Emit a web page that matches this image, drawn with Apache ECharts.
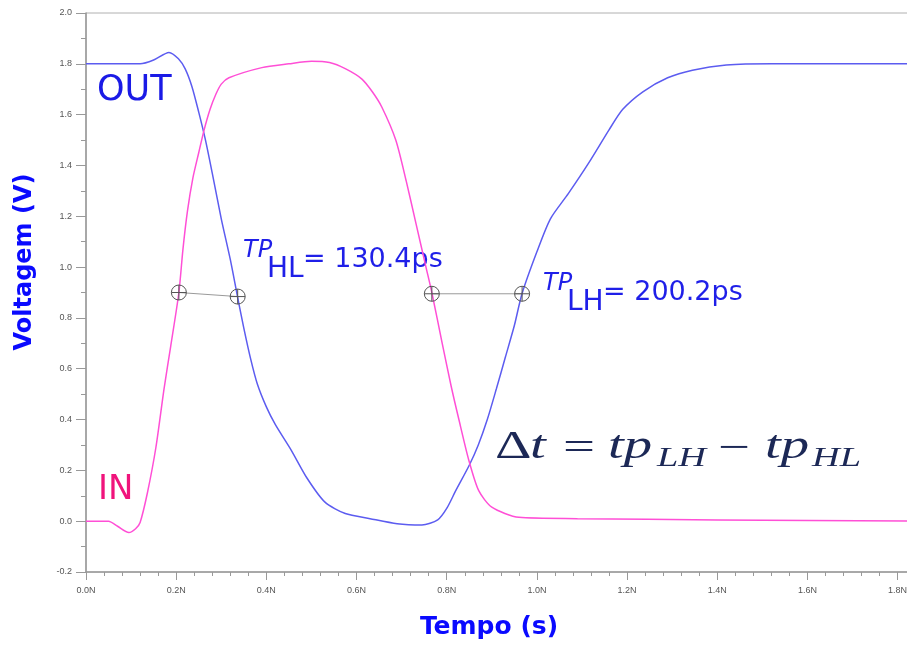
<!DOCTYPE html>
<html>
<head>
<meta charset="utf-8">
<script src="https://cdn.jsdelivr.net/npm/echarts@6/dist/echarts.min.js"></script>
<style>
  html, body { margin: 0; background: #fff; }
  #chart { width: 907px; height: 646px; }
</style>
</head>
<body>
<div id="chart"></div>
<script>
// time in ns, voltage in V
const outTime = [0, 0.10, 0.12, 0.15, 0.184, 0.205, 0.22, 0.235, 0.25, 0.265, 0.28, 0.30, 0.32, 0.336, 0.35,
    0.365, 0.38, 0.40, 0.42, 0.455, 0.49, 0.53, 0.575, 0.63, 0.69, 0.745, 0.78, 0.80, 0.82, 0.85,
    0.87, 0.89, 0.91, 0.93, 0.95, 0.967, 1.00, 1.03, 1.07, 1.115, 1.16, 1.19, 1.235, 1.29, 1.345,
    1.42, 1.52, 1.843];
const outVolt = [1.8, 1.8, 1.8, 1.815, 1.845, 1.82, 1.78, 1.71, 1.61, 1.5, 1.37, 1.19, 1.03, 0.884, 0.76,
    0.64, 0.54, 0.45, 0.38, 0.28, 0.17, 0.075, 0.03, 0.01, -0.01, -0.015, 0.005, 0.05, 0.12, 0.22,
    0.30, 0.40, 0.52, 0.645, 0.77, 0.895, 1.06, 1.19, 1.29, 1.41, 1.54, 1.62, 1.69, 1.745, 1.775,
    1.795, 1.8, 1.8];

const inTime = [0, 0.05, 0.07, 0.095, 0.11, 0.12, 0.136, 0.155, 0.173, 0.188, 0.206, 0.215, 0.225, 0.237, 0.25,
    0.262, 0.275, 0.288, 0.30, 0.317, 0.39, 0.45, 0.50, 0.54, 0.576, 0.612, 0.635, 0.656, 0.687, 0.71,
    0.732, 0.754, 0.767, 0.79, 0.81, 0.827, 0.849, 0.871, 0.90, 0.96, 1.09, 1.4, 1.843];
const inVolt = [0, 0, -0.02, -0.045, -0.03, -0.005, 0.11, 0.29, 0.52, 0.69, 0.9, 1.07, 1.22, 1.35, 1.45,
    1.54, 1.62, 1.68, 1.72, 1.745, 1.785, 1.80, 1.81, 1.805, 1.78, 1.74, 1.69, 1.63, 1.5, 1.34,
    1.17, 1.0, 0.9, 0.70, 0.53, 0.4, 0.24, 0.12, 0.055, 0.015, 0.01, 0.005, 0.0];

// 50% crossing markers
const hlMarkers = [[0.206, 0.9], [0.3364, 0.884]];
const lhMarkers = [[0.767, 0.895], [0.9672, 0.895]];

const xMin = 0, xMax = 1.843, xStep = 0.2;
const yMin = -0.2, yMax = 2.0, yStep = 0.2;

const pair = (xs, ys) => xs.map((x, i) => [x, ys[i]]);

const crossSymbol = 'path://M10,0A10,10,0,1,1,10,20A10,10,0,1,1,10,0ZM0,10L20,10M10,0L10,20';

const chart = echarts.init(document.getElementById('chart'), null, { renderer: 'canvas' });

const markerSeries = (data) => ({
    type: 'line',
    data,
    symbol: crossSymbol,
    symbolSize: 15,
    lineStyle: { color: '#9a9a9a', width: 1 },
    itemStyle: { color: 'rgba(0,0,0,0)', borderColor: '#555', borderWidth: 1 },
    z: 5,
    silent: true,
});

const sans = 'DejaVu Sans';
const serif = 'Liberation Serif';
const blue = '#1f1fe8';
const navy = '#1c2856';

const txt = (text, x, y, font, fill, extra = {}) => ({
    type: 'text',
    x, y,
    ...extra,
    style: { text, font, fill, textVerticalAlign: 'middle', ...(extra.style || {}) },
});

const option = {
    backgroundColor: '#fff',
    animation: false,
    // plot runs past the right edge of the picture, as in the original screenshot
    grid: {
        left: 86, width: 831, top: 13, bottom: 74,
        outerBoundsMode: 'none',
        show: true, borderColor: '#b0b0b0', borderWidth: 1,
    },
    xAxis: {
        type: 'value',
        min: xMin,
        max: xMax,
        interval: xStep,
        axisLine: { onZero: false, lineStyle: { color: '#999', width: 1.5 } },
        axisTick: { length: 8, lineStyle: { color: '#999' } },
        minorTick: { show: true, splitNumber: 5, length: 4, lineStyle: { color: '#999' } },
        splitLine: { show: false },
        axisLabel: {
            margin: 14,
            fontSize: 9,
            fontFamily: 'Liberation Sans',
            color: '#555',
            showMaxLabel: false,
            formatter: (v) => (Math.abs(v / xStep - Math.round(v / xStep)) < 1e-6 ? v.toFixed(1) + 'N' : ''),
        },
    },
    yAxis: {
        type: 'value',
        min: yMin,
        max: yMax,
        interval: yStep,
        axisLine: { show: true, lineStyle: { color: '#999', width: 1.5 } },
        axisTick: { show: true, length: 10, lineStyle: { color: '#999' } },
        minorTick: { show: true, splitNumber: 2, length: 5, lineStyle: { color: '#999' } },
        splitLine: { show: false },
        axisLabel: {
            margin: 14,
            fontSize: 9,
            fontFamily: 'Liberation Sans',
            color: '#555',
            formatter: (v) => v.toFixed(1),
        },
    },
    series: [
        {
            name: 'OUT',
            type: 'line',
            data: pair(outTime, outVolt),
            showSymbol: false,
            smooth: 0.25,
            lineStyle: { color: '#5c5cf0', width: 1.5 },
            z: 3,
        },
        {
            name: 'IN',
            type: 'line',
            data: pair(inTime, inVolt),
            showSymbol: false,
            smooth: 0.25,
            lineStyle: { color: '#ff4fd6', width: 1.5 },
            z: 3,
        },
        markerSeries(hlMarkers),
        markerSeries(lhMarkers),
    ],
    graphic: [
        // axis titles
        txt('Voltagem (V)', 25, 262, `bold 24px "${sans}"`, '#0a0aff', { rotation: Math.PI / 2, style: { textAlign: 'center' } }),
        txt('Tempo (s)', 489, 627, `bold 25px "${sans}"`, '#0a0aff', { style: { textAlign: 'center' } }),
        // curve names
        txt('OUT', 97, 91, `35px "${sans}"`, '#1a1ae6'),
        txt('IN', 98, 490, `34px "${sans}"`, '#f0147c'),
        // propagation delays
        txt('TP', 243, 251, `italic 24px "${sans}"`, blue),
        txt('HL', 267, 270, `28px "${sans}"`, blue),
        txt('= 130.4ps', 303, 260, `27px "${sans}"`, blue),
        txt('TP', 543, 284, `italic 24px "${sans}"`, blue),
        txt('LH', 567, 303, `28px "${sans}"`, blue),
        txt('= 200.2ps', 603, 293, `27px "${sans}"`, blue),
        // formula
        txt('Δ', 495, 447, `40px "${serif}"`, navy, { scaleX: 1.42 }),
        txt('t', 530, 447, `italic 40px "${serif}"`, navy, { scaleX: 1.42 }),
        txt('=', 563, 449, `40px "${serif}"`, navy, { scaleX: 1.42 }),
        txt('tp', 608, 447, `italic 40px "${serif}"`, navy, { scaleX: 1.42 }),
        txt('LH', 657, 459, `italic 27px "${serif}"`, navy, { scaleX: 1.42 }),
        txt('−', 718, 449, `40px "${serif}"`, navy, { scaleX: 1.42 }),
        txt('tp', 765, 447, `italic 40px "${serif}"`, navy, { scaleX: 1.42 }),
        txt('HL', 812, 459, `italic 27px "${serif}"`, navy, { scaleX: 1.42 }),
    ],
};

chart.setOption(option);
</script>
</body>
</html>
